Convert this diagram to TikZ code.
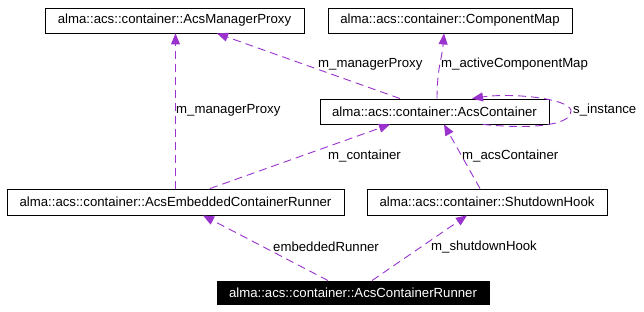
\documentclass[tikz,border=0pt]{standalone}
\usepackage{fontspec}
\setmainfont{Liberation Sans}
\usetikzlibrary{arrows.meta}
\definecolor{usecol}{RGB}{154,50,205}
\tikzset{
  cls/.style={draw=black, line width=0.9pt, inner sep=0pt, minimum height=25pt, font=\fontsize{13.2}{15}\selectfont, text=black},
  lbl/.style={inner sep=0pt, anchor=west, font=\fontsize{13.2}{15}\selectfont, text=black},
  use/.style={draw=usecol, line width=0.9pt, dash pattern=on 8pt off 5pt, -{Triangle[length=11pt,width=9pt,fill=usecol]}},
}
\begin{document}
\begin{tikzpicture}[x=1pt,y=-1pt]
\useasboundingbox (0,0) rectangle (644,312);
\node[cls, minimum width=259pt] (mp) at (174.5,20.5) {alma::acs::container::AcsManagerProxy};
\node[cls, minimum width=244pt] (cm) at (450,20.5) {alma::acs::container::ComponentMap};
\node[cls, minimum width=229pt] (ac) at (434.5,111.5) {alma::acs::container::AcsContainer};
\node[cls, minimum width=337pt, minimum height=26pt] (ecr) at (175.5,202) {alma::acs::container::AcsEmbeddedContainerRunner};
\node[cls, minimum width=240pt, minimum height=26pt] (sh) at (487,202) {alma::acs::container::ShutdownHook};
\node[cls, fill=black, text=white, minimum width=272pt, minimum height=23pt] (run) at (353,292.5) {alma::acs::container::AcsContainerRunner};

\draw[use] (ecr.north) -- (ecr.north |- mp.south);
\draw[use] ([xshift=34.5pt]ecr.north) -- ([xshift=-44.5pt]ac.south);
\draw[use] ([xshift=-7pt]sh.north) -- ([xshift=9.5pt]ac.south);
\draw[use] ([xshift=2.5pt]ac.north) .. controls +(0,-30) and +(-2,25) .. ([xshift=-6pt]cm.south);
\draw[use] ([xshift=-34.5pt]ac.north) -- ([xshift=42.5pt]mp.south);
\draw[use] ([xshift=-25pt]run.north) -- ([xshift=27.5pt]ecr.south);
\draw[use] ([xshift=19pt]run.north) -- ([xshift=-20pt]sh.south);
\draw[use] ([xshift=48.5pt]ac.south) .. controls +(60,6) and +(2,12) .. ++(88,-14)
  .. controls +(-2,-12) and +(40,-6) .. ([xshift=37.5pt]ac.north);

\node[lbl] (l1) at (176,110) {m\_managerProxy};
\node[lbl] (l2) at (318,64) {m\_managerProxy};
\node[lbl] (l3) at (441,64) {m\_activeComponentMap};
\node[lbl] (l4) at (573,110) {s\_instance};
\node[lbl] (l5) at (328,156) {m\_container};
\node[lbl] (l6) at (462,156) {m\_acsContainer};
\node[lbl] (l7) at (273,247) {embeddedRunner};
\node[lbl] (l8) at (431,247) {m\_shutdownHook};
\end{tikzpicture}
\end{document}
